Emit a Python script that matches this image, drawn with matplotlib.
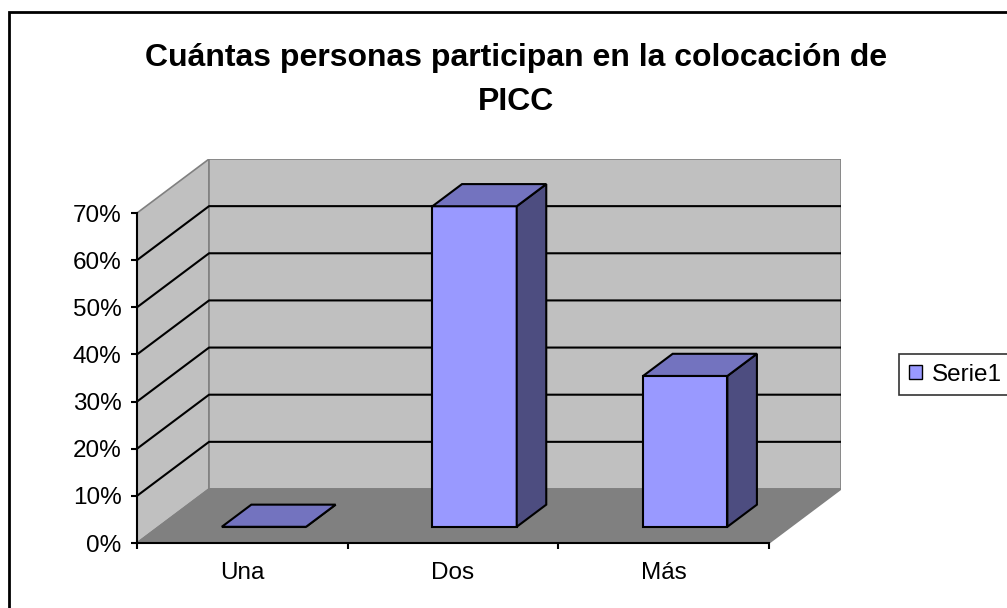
import matplotlib.pyplot as plt
from matplotlib.patches import Polygon, Rectangle, Patch
from matplotlib.ticker import PercentFormatter

# datos del gráfico
categorias = ["Una", "Dos", "Más"]
valores = [0.0, 0.68, 0.32]
serie = "Serie1"
titulo = "Cuántas personas participan en la colocación de\nPICC"
y_ticks = [0.0, 0.1, 0.2, 0.3, 0.4, 0.5, 0.6, 0.7]

plt.rcParams["font.family"] = ["Liberation Sans", "DejaVu Sans"]

W, H = 1007, 608
fig = plt.figure(figsize=(W / 100, H / 100), dpi=100)
fig.patch.set_facecolor("white")

# profundidad oblicua del "3D" en unidades de datos
DX, DY = 0.342, 0.1146
F0, F1 = 0.30, 0.71      # profundidad de las barras (fracción)
ANCHO = 0.4
n = len(categorias)
ymax = y_ticks[-1]

ax = fig.add_axes([137 / W, 65 / H, 704 / W, 384 / H])
ax.set_xlim(0, n + DX)
ax.set_ylim(0, ymax + DY)
ax.patch.set_visible(False)

# paredes y suelo
pared = "#C0C0C0"
borde = "#808080"
ax.add_patch(Polygon([(0, 0), (0, ymax), (DX, ymax + DY), (DX, DY)],
                     closed=True, facecolor=pared, edgecolor=borde, lw=1.2, zorder=1))
ax.add_patch(Polygon([(DX, DY), (DX, ymax + DY), (n + DX, ymax + DY), (n + DX, DY)],
                     closed=True, facecolor=pared, edgecolor=borde, lw=1.2, zorder=1))
ax.add_patch(Polygon([(0, 0), (n, 0), (n + DX, DY), (DX, DY)],
                     closed=True, facecolor="#808080", edgecolor=borde, lw=1.2, zorder=1))

# líneas de cuadrícula
for v in y_ticks[1:-1]:
    ax.plot([0, DX, n + DX], [v, v + DY, v + DY], color="black", lw=1.5, zorder=2,
            solid_capstyle="butt")

# barras
for i, v in enumerate(valores):
    x0 = i + 0.5 - ANCHO / 2
    x1 = i + 0.5 + ANCHO / 2
    ox0, oy0 = F0 * DX, F0 * DY
    ox1, oy1 = F1 * DX, F1 * DY
    frente = [(x0 + ox0, oy0), (x1 + ox0, oy0), (x1 + ox0, v + oy0), (x0 + ox0, v + oy0)]
    arriba = [(x0 + ox0, v + oy0), (x1 + ox0, v + oy0), (x1 + ox1, v + oy1), (x0 + ox1, v + oy1)]
    lado = [(x1 + ox0, oy0), (x1 + ox1, oy1), (x1 + ox1, v + oy1), (x1 + ox0, v + oy0)]
    for pts, c in [(frente, "#9999FF"), (lado, "#4D4D80"), (arriba, "#7373BF")]:
        ax.add_patch(Polygon(pts, closed=True, facecolor=c, edgecolor="black",
                             lw=1.5, joinstyle="miter", zorder=3))

# ejes
for s in ["top", "right"]:
    ax.spines[s].set_visible(False)
ax.spines["left"].set_bounds(0, ymax)
ax.spines["bottom"].set_bounds(0, n)
for s in ["left", "bottom"]:
    ax.spines[s].set_linewidth(1.5)
    ax.spines[s].set_zorder(4)

ax.set_yticks(y_ticks)
ax.yaxis.set_major_formatter(PercentFormatter(1.0, decimals=0))
ax.set_xticks(range(n + 1))
ax.set_xticklabels([])
ax.set_xticks([i + 0.5 for i in range(n)], minor=True)
ax.set_xticklabels(categorias, minor=True)
ax.tick_params(axis="both", which="major", direction="out", length=4, width=1.5,
               labelsize=17.5, pad=7)
ax.tick_params(axis="x", which="minor", length=0, labelsize=17.5, pad=14)

# título
fig.text(516 / W, 1 - 80 / H, titulo, ha="center", va="center", fontsize=23,
         fontweight="bold", linespacing=1.65)

# leyenda
leg = fig.legend(handles=[Patch(facecolor="#9999FF", edgecolor="black", lw=1)],
                 labels=[serie], loc="upper left",
                 bbox_to_anchor=(899 / W, 1 - 354 / H), borderaxespad=0,
                 fontsize=17.5, fancybox=False, frameon=True, handlelength=0.55,
                 handleheight=0.55, handletextpad=0.4, borderpad=0.4)
leg.get_frame().set_edgecolor("black")
leg.get_frame().set_linewidth(1.2)

# marco exterior
fig.patches.append(Rectangle((9 / W, -0.05), 1.1, 1 - 12 / H + 0.05,
                             transform=fig.transFigure, fill=False,
                             edgecolor="black", lw=2))

fig.savefig("out.png", dpi=100)
